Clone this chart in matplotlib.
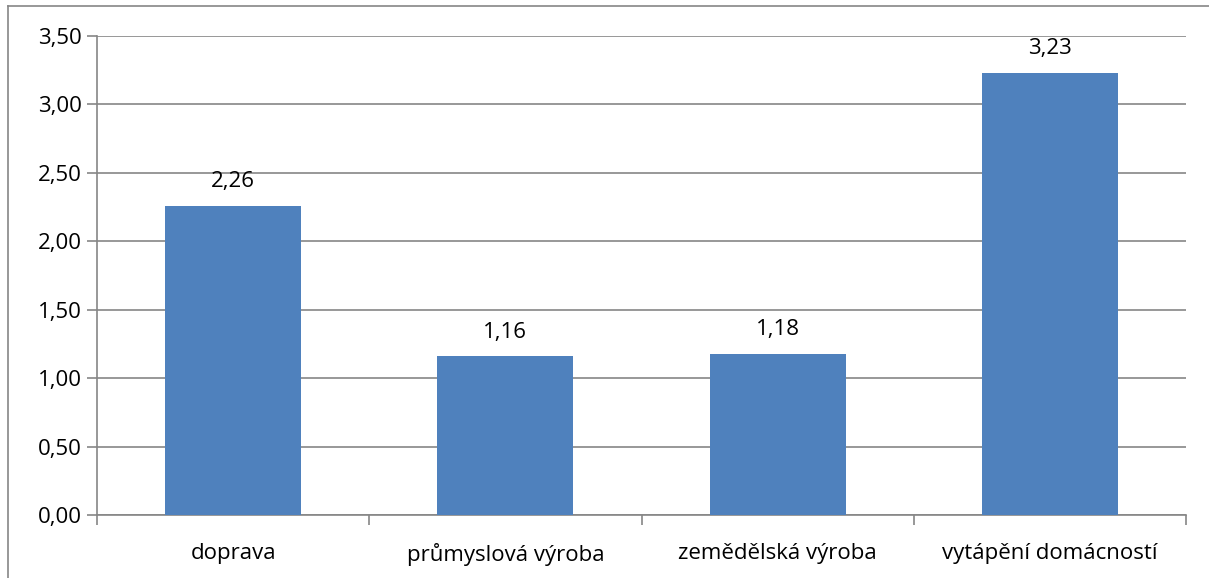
import matplotlib.pyplot as plt
from matplotlib.lines import Line2D
from matplotlib.ticker import MultipleLocator, FuncFormatter

categories = ['doprava', 'průmyslová výroba', 'zemědělská výroba', 'vytápění domácností']
values = [2.26, 1.16, 1.18, 3.23]

W, H = 1209, 578
plt.rcParams['font.family'] = ['Open Sans', 'DejaVu Sans']
FS = 16

fig = plt.figure(figsize=(W / 100, H / 100), dpi=100)
ax = fig.add_axes([97 / W, 1 - 515 / H, (1186 - 97) / W, (515 - 36) / H])

x = range(len(categories))
ax.bar(x, values, width=0.5, color='#4F81BD', zorder=3)
for xi, v in zip(x, values):
    ax.text(xi, v + 0.1, f'{v:.2f}'.replace('.', ','), ha='center', va='bottom', fontsize=FS)

ax.set_xlim(-0.5, len(categories) - 0.5)
ax.set_ylim(0, 3.5)
ax.yaxis.set_major_locator(MultipleLocator(0.5))
ax.yaxis.set_major_formatter(FuncFormatter(lambda v, p: f'{v:.2f}'.replace('.', ',')))
ax.grid(axis='y', color='#868686', linewidth=1.2, zorder=0)

ax.set_xticks(x)
ax.set_xticklabels(categories, fontsize=FS)
ax.tick_params(axis='x', length=0, pad=20)
ax.set_xticks([i - 0.5 for i in range(len(categories) + 1)], minor=True)
ax.tick_params(axis='x', which='minor', length=7, color='#868686', width=1.2)
ax.tick_params(axis='y', labelsize=FS, length=7, color='#868686', width=1.2, pad=4)

for s in ['top', 'right']:
    ax.spines[s].set_visible(False)
for s in ['left', 'bottom']:
    ax.spines[s].set_color('#868686')
    ax.spines[s].set_linewidth(1.2)

# outer chart border (top and left edges only visible)
fig.add_artist(Line2D([8 / W, 8 / W], [0, 1 - 6 / H], transform=fig.transFigure, color='#868686', lw=1.2))
fig.add_artist(Line2D([8 / W, 1], [1 - 6 / H, 1 - 6 / H], transform=fig.transFigure, color='#868686', lw=1.2))

fig.savefig('out.png', dpi=100)
